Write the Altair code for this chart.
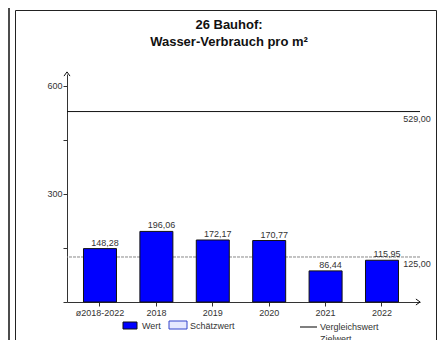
import altair as alt
import pandas as pd

categories = ["ø2018-2022", "2018", "2019", "2020", "2021", "2022"]
values = [148.28, 196.06, 172.17, 170.77, 86.44, 115.95]
ref_names = ["Vergleichswert", "Zielwert"]
ref_values = [529.0, 125.0]
title_lines = ["26 Bauhof:", "Wasser-Verbrauch pro m²"]
legend_labels = ["Wert", "Schätzwert", "Vergleichswert", "Zielwert"]

FONT = "Liberation Sans"
W, H = 353, 228


def de(v):
    return f"{v:.2f}".replace(".", ",")


bars_df = pd.DataFrame({"cat": categories, "val": values, "lab": [de(v) for v in values]})
ref_df = pd.DataFrame({"name": ref_names, "val": ref_values, "lab": [de(v) for v in ref_values]})
one = pd.DataFrame({"a": [0]})

xs = alt.X("cat:N", sort=categories, title=None,
           scale=alt.Scale(paddingInner=0.415, paddingOuter=0.337, align=0.434),
           axis=alt.Axis(labelAngle=0, labelFont=FONT, labelFontSize=9, labelColor="#333",
                         tickSize=4, tickColor="#333", domainColor="#333", labelPadding=2,
                         grid=False))
ys = alt.Y("val:Q", title=None,
           scale=alt.Scale(domain=[0, 633.3], nice=False, zero=True),
           axis=alt.Axis(values=[0, 150, 300, 450, 600],
                         labelExpr="datum.value % 300 == 0 && datum.value > 0 ? datum.label : ''",
                         labelFont=FONT, labelFontSize=9, labelColor="#333", tickSize=4,
                         tickColor="#333", domainColor="#333", labelPadding=1, grid=False))

frame = alt.Chart(one).mark_rect(fill=None, stroke="#222", strokeWidth=1).encode(
    x=alt.value(-51.5), x2=alt.value(369.5), y=alt.value(-63.5), y2=alt.value(300))
leftline = alt.Chart(one).mark_rule(color="#111", strokeWidth=1.5).encode(
    x=alt.value(-58), y=alt.value(-70), y2=alt.value(300))

ziel = alt.Chart(ref_df[ref_df.name == "Zielwert"]).mark_rule(
    color="#888", strokeDash=[3, 1], strokeWidth=1).encode(y=alt.Y("val:Q"))
vergl = alt.Chart(ref_df[ref_df.name == "Vergleichswert"]).mark_rule(
    color="#111", strokeWidth=1).encode(y=alt.Y("val:Q"))
ref_text = alt.Chart(ref_df).mark_text(font=FONT, fontSize=9, color="#333", align="center",
                                       baseline="top", dy=3).encode(
    x=alt.value(350), y=alt.Y("val:Q"), text="lab:N")

bars = alt.Chart(bars_df).mark_bar(color="#0000FF", stroke="#111", strokeWidth=1).encode(
    x=xs, y=ys)
bar_text = alt.Chart(bars_df).mark_text(font=FONT, fontSize=9, color="#333", baseline="bottom",
                                        dx=5, dy=-1).encode(
    x=alt.X("cat:N", sort=categories), y=alt.Y("val:Q"), text="lab:N")

yarrow = alt.Chart(one).mark_point(shape="M -1 0.7 L 0 -0.7 L 1 0.7", filled=False,
                                   color="#111", size=36, strokeWidth=1, opacity=1).encode(
    x=alt.value(0), y=alt.value(0))
xarrow = alt.Chart(one).mark_point(shape="M -0.7 -1 L 0.7 0 L -0.7 1", filled=False,
                                   color="#111", size=36, strokeWidth=1, opacity=1).encode(
    x=alt.value(351), y=alt.value(H))

t1 = alt.Chart(one).mark_text(font=FONT, fontSize=13, fontWeight="bold", color="#111",
                              align="center", baseline="middle").encode(
    x=alt.value(162), y=alt.value(-49), text=alt.value(title_lines[0]))
t2 = alt.Chart(one).mark_text(font=FONT, fontSize=13, fontWeight="bold", color="#111",
                              align="center", baseline="middle").encode(
    x=alt.value(162), y=alt.value(-32), text=alt.value(title_lines[1]))

leg_rect = alt.Chart(one).mark_rect(fill="#0000FF", stroke="#111", strokeWidth=1).encode(
    x=alt.value(56), x2=alt.value(70), y=alt.value(248), y2=alt.value(255))
leg_hatch = alt.Chart(one).mark_rect(fill="#e6e9ff", stroke="#3344cc", strokeWidth=1).encode(
    x=alt.value(102), x2=alt.value(120), y=alt.value(247), y2=alt.value(255))
leg_line = alt.Chart(one).mark_rule(color="#555", strokeWidth=1.5).encode(
    x=alt.value(233), x2=alt.value(250), y=alt.value(253))
leg_t = []
for lab, xx, yy in [(legend_labels[0], 75, 252), (legend_labels[1], 123, 252),
                    (legend_labels[2], 253, 253), (legend_labels[3], 253, 265)]:
    leg_t.append(alt.Chart(one).mark_text(font=FONT, fontSize=9, color="#333", align="left",
                                          baseline="middle").encode(
        x=alt.value(xx), y=alt.value(yy), text=alt.value(lab)))

chart = alt.layer(
    frame, leftline, ziel, vergl, bars, bar_text, ref_text, yarrow, xarrow, t1, t2,
    leg_rect, leg_hatch, leg_line, *leg_t
).properties(
    width=W, height=H,
    autosize=alt.AutoSizeParams(type="none"),
    padding={"left": 59, "top": 66, "right": 18, "bottom": 38},
).configure_view(stroke=None)

chart.save("out.html", embed_options={"renderer": "svg", "actions": False})
